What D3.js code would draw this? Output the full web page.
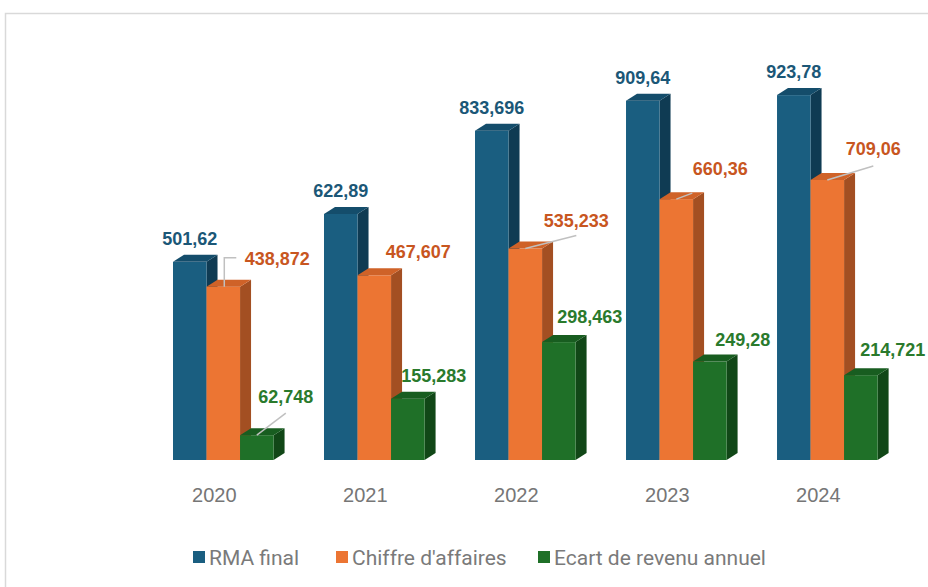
<!DOCTYPE html>
<html>
<head>
<meta charset="utf-8">
<script src="https://cdn.jsdelivr.net/npm/d3@7"></script>
<style>
    html, body { margin: 0; padding: 0; background: #fff; }
    svg { display: block; }
</style>
</head>
<body>
<svg width="928" height="587"></svg>
<script>
// Data
const years = ["2020", "2021", "2022", "2023", "2024"];
const seriesNames = ["RMA final", "Chiffre d'affaires", "Ecart de revenu annuel"];
const rmaFinal = [501.62, 622.89, 833.696, 909.64, 923.78];
const chiffreAffaires = [438.872, 467.607, 535.233, 660.36, 709.06];
const ecartRevenu = [62.748, 155.283, 298.463, 249.28, 214.721];
const valueLabels = [
    ["501,62", "622,89", "833,696", "909,64", "923,78"],
    ["438,872", "467,607", "535,233", "660,36", "709,06"],
    ["62,748", "155,283", "298,463", "249,28", "214,721"]
];

// colours: front, top, side, label
const palette = [
    {front: "#1a5e80", top: "#144d6b", side: "#0f3b53", label: "#1b5777"},
    {front: "#ec7533", top: "#cf6228", side: "#a34f22", label: "#c8561f"},
    {front: "#1f7028", top: "#185d20", side: "#114717", label: "#2a7a2c"}
];

// label offsets relative to the bar front top centre (layout)
const labelOffsets = [
    [[0, -17], [0, -17], [0, -17], [0, -17], [0, -17]],
    [[54, -22], [44, -17], [51, -22], [44, -24], [46, -25]],
    [[29, -32], [26, -17], [31, -19], [33, -16], [32, -19]]
];
// leader lines: [series, year index, points relative to bar front top centre]
const leaders = [
    [1, 0, [[1, 0], [1, -29], [13, -29]]],
    [1, 2, [[0, 0], [51, -13]]],
    [1, 3, [[0, 0], [16, -6]]],
    [1, 4, [[0, 0], [46, -14]]],
    [2, 0, [[0, 0], [29, -22]]]
];

function drawChart() {
    const svg = d3.select("svg");
    const seriesValues = [rmaFinal, chiffreAffaires, ecartRevenu];
    const depth = {dx: 11, dy: 7};

    // chart frame
    svg.append("rect")
        .attr("x", 5.5).attr("y", 13.5)
        .attr("width", 1000).attr("height", 1000)
        .attr("fill", "#fff")
        .attr("stroke", "#d9d9d9")
        .attr("stroke-width", 1.5);

    // scales
    const scX = d3.scaleBand()
        .domain(years)
        .range([97.5, 953.1])
        .paddingInner(0.334)
        .paddingOuter(0.5);
    const scSeries = d3.scaleBand()
        .domain(d3.range(seriesNames.length))
        .range([0, scX.bandwidth()]);
    const scY = d3.scaleLinear()
        .domain([0, 1000])
        .range([460, 65]);

    const bw = scSeries.bandwidth();
    const gBars = svg.append("g");

    // bars, drawn group by group, left to right
    years.forEach((year, i) => {
        seriesValues.forEach((vals, s) => {
            const x0 = scX(year) + scSeries(s);
            const x1 = x0 + bw;
            const yTop = scY(vals[i]);
            const yBase = scY(0);
            const col = palette[s];
            // side face
            gBars.append("polygon")
                .attr("points", [[x1, yTop], [x1 + depth.dx, yTop - depth.dy],
                    [x1 + depth.dx, yBase - depth.dy], [x1, yBase]].join(" "))
                .attr("fill", col.side);
            // front face
            gBars.append("rect")
                .attr("x", x0).attr("y", yTop)
                .attr("width", bw).attr("height", yBase - yTop)
                .attr("fill", col.front);
            // top face
            gBars.append("polygon")
                .attr("points", [[x0, yTop], [x0 + depth.dx, yTop - depth.dy],
                    [x1 + depth.dx, yTop - depth.dy], [x1, yTop]].join(" "))
                .attr("fill", col.top);
        });
    });

    // leader lines
    leaders.forEach(([s, i, pts]) => {
        const cx = scX(years[i]) + scSeries(s) + bw / 2;
        const cy = scY(seriesValues[s][i]);
        svg.append("path")
            .attr("d", d3.line()(pts.map(p => [cx + p[0], cy + p[1]])))
            .attr("fill", "none")
            .attr("stroke", "#c0c0c0")
            .attr("stroke-width", 1.5);
    });

    // value labels
    seriesValues.forEach((vals, s) => {
        svg.append("g").selectAll("text")
            .data(vals)
            .enter()
            .append("text")
            .attr("x", (d, i) => scX(years[i]) + scSeries(s) + bw / 2 + labelOffsets[s][i][0])
            .attr("y", (d, i) => scY(d) + labelOffsets[s][i][1])
            .attr("text-anchor", "middle")
            .style("font-family", "'Liberation Sans', Arial, sans-serif")
            .style("font-weight", "bold")
            .style("font-size", "18px")
            .style("fill", palette[s].label)
            .text((d, i) => valueLabels[s][i]);
    });

    // x axis labels
    const axisX = d3.axisBottom(scX).tickSize(0).tickPadding(0);
    const gAxis = svg.append("g")
        .attr("transform", `translate(-9, 488)`)
        .call(axisX);
    gAxis.select(".domain").remove();
    gAxis.selectAll("text")
        .style("font-family", "'Liberation Sans', Arial, sans-serif")
        .style("font-size", "20px")
        .style("fill", "#767676");

    // legend
    const legendX = [193, 336, 538];
    const gLegend = svg.append("g");
    seriesNames.forEach((name, s) => {
        gLegend.append("rect")
            .attr("x", legendX[s]).attr("y", 551)
            .attr("width", 12).attr("height", 12)
            .attr("fill", palette[s].front);
        gLegend.append("text")
            .attr("x", legendX[s] + 16).attr("y", 565)
            .style("font-family", "'Liberation Sans Narrow', 'Roboto', sans-serif")
            .style("font-size", "21px")
            .style("fill", "#7a7a7a")
            .text(name);
    });
}

drawChart();
</script>
</body>
</html>
